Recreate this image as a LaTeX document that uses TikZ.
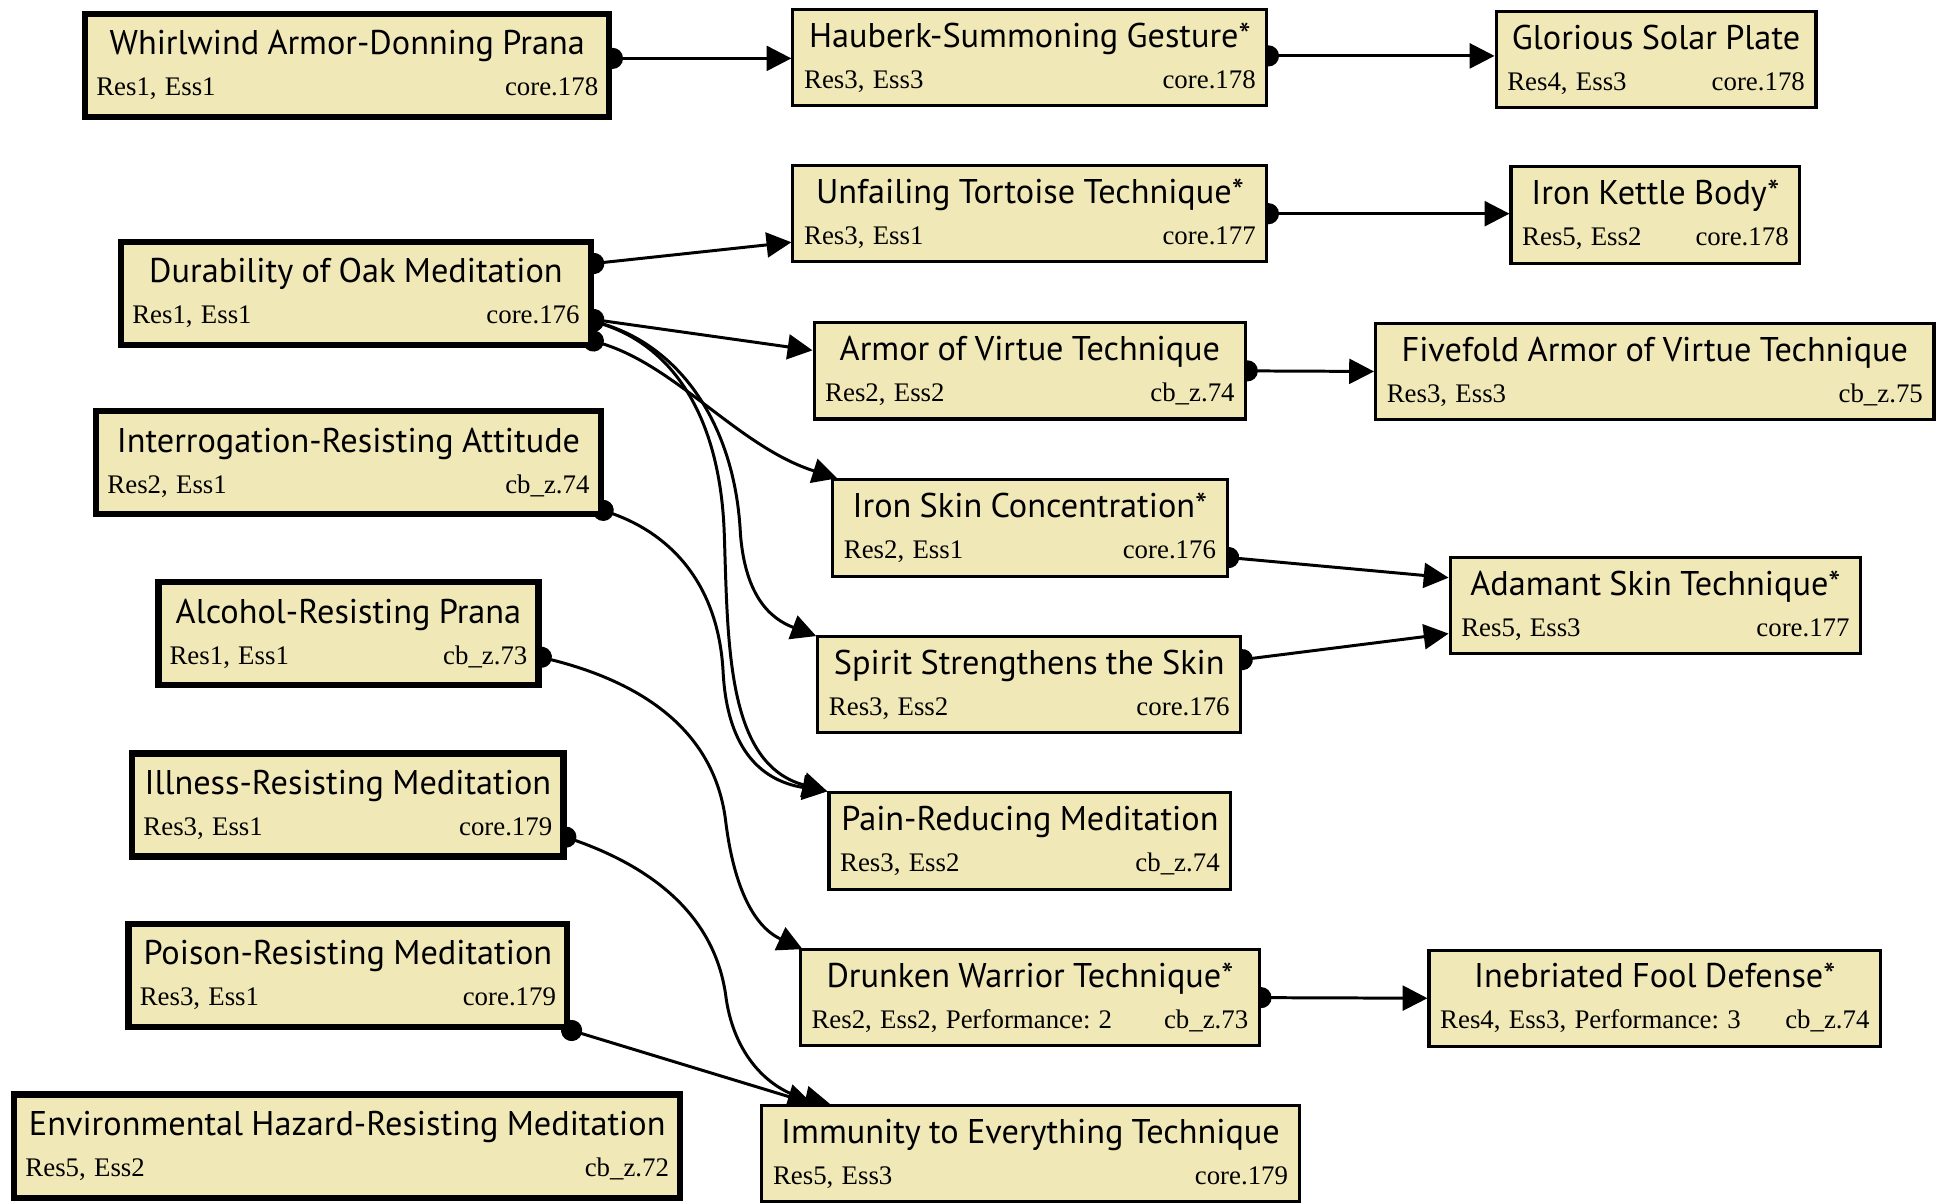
\documentclass[tikz,border=0pt]{standalone}
\usepackage{fontspec}
\setmainfont{Liberation Serif}
\newfontfamily\titlefont{PT Sans}
\usetikzlibrary{arrows.meta,calc,backgrounds}
\frenchspacing

\definecolor{techfill}{HTML}{F0E8B6}
% title on top, cost and source on one line below
\newcommand{\charm}[3]{\fontsize{10.8}{16.5}\selectfont
  \makebox[\linewidth]{\titlefont\fontsize{13.8}{16.5}\selectfont #1}\\%
  #2\hfill #3\par}

\begin{document}
\begin{tikzpicture}[
  x=0.5pt, y=-0.5pt,
  base/.style={draw, fill=techfill, line width=2.5pt, inner xsep=4.5pt,
               inner ysep=0pt, minimum height=41.5pt},
  tech/.style={base, line width=1.25pt, minimum height=38.75pt},
  link/.style={line width=1.2pt, {Circle[length=8.5pt]}-{Triangle[length=10pt,width=10pt]}}
]
\useasboundingbox (0,0) rectangle (1568,968);

% entry charms
\node[base, text width=202pt] (whirl) at (279.5,52.5) {\charm{Whirlwind Armor-Donning Prana}{Res1, Ess1}{core.178}};
\node[base, text width=180pt] (oak) at (286.5,236) {\charm{Durability of Oak Meditation}{Res1, Ess1}{core.176}};
\node[base, text width=194pt] (interr) at (280.5,372.5) {\charm{Interrogation-Resisting Attitude}{Res2, Ess1}{cb\_z.74}};
\node[base, text width=144pt] (alcohol) at (280.5,510) {\charm{Alcohol-Resisting Prana}{Res1, Ess1}{cb\_z.73}};
\node[base, text width=164.5pt] (illness) at (280,648) {\charm{Illness-Resisting Meditation}{Res3, Ess1}{core.179}};
\node[base, text width=167.5pt] (poison) at (280,785) {\charm{Poison-Resisting Meditation}{Res3, Ess1}{core.179}};
\node[base, text width=259pt] (env) at (279.5,922.5) {\charm{Environmental Hazard-Resisting Meditation}{Res5, Ess2}{cb\_z.72}};

% second tier
\node[tech, text width=181.75pt] (hauberk) at (829,46.5) {\charm{Hauberk-Summoning Gesture*}{Res3, Ess3}{core.178}};
\node[tech, text width=181.75pt] (tortoise) at (829,172) {\charm{Unfailing Tortoise Technique*}{Res3, Ess1}{core.177}};
\node[tech, text width=164.75pt] (armorv) at (829,298.5) {\charm{Armor of Virtue Technique}{Res2, Ess2}{cb\_z.74}};
\node[tech, text width=149.75pt] (ironskin) at (829,425) {\charm{Iron Skin Concentration*}{Res2, Ess1}{core.176}};
\node[tech, text width=161.25pt] (spirit) at (828.5,551) {\charm{Spirit Strengthens the Skin}{Res3, Ess2}{core.176}};
\node[tech, text width=152.75pt] (pain) at (829,677) {\charm{Pain-Reducing Meditation}{Res3, Ess2}{cb\_z.74}};
\node[tech, text width=175.75pt] (drunken) at (829,803) {\charm{Drunken Warrior Technique*}{Res2, Ess2, Performance: 2}{cb\_z.73}};
\node[tech, text width=207.25pt] (immunity) at (829.5,928.5) {\charm{Immunity to Everything Technique}{Res5, Ess3}{core.179}};

% third tier
\node[tech, text width=119.75pt] (solar) at (1333,48) {\charm{Glorious Solar Plate}{Res4, Ess3}{core.178}};
\node[tech, text width=107.25pt] (kettle) at (1332.5,173) {\charm{Iron Kettle Body*}{Res5, Ess2}{core.178}};
\node[tech, text width=215.75pt] (fivefold) at (1332,299) {\charm{Fivefold Armor of Virtue Technique}{Res3, Ess3}{cb\_z.75}};
\node[tech, text width=156.25pt] (adamant) at (1332.5,487.5) {\charm{Adamant Skin Technique*}{Res5, Ess3}{core.177}};
\node[tech, text width=172.75pt] (inebriated) at (1332,803.5) {\charm{Inebriated Fool Defense*}{Res4, Ess3, Performance: 3}{cb\_z.74}};

\begin{scope}[on background layer]
\draw[link] ($(whirl.east)+(-8.5,-5.5)$) -- ($(hauberk.west)+(0,0.5)$);
\draw[link] ($(hauberk.east)+(-8.5,-1.5)$) -- ($(solar.west)+(0,-3)$);
\draw[link] ($(tortoise.east)+(-8.5,0)$) -- (kettle.west |- tortoise.east);
\draw[link] ($(oak.east)+(-8.5,-23)$) -- ($(tortoise.west)+(0,23)$);
\draw[link] ($(oak.east)+(-8.5,20)$) -- ($(armorv.west)+(0,-16.5)$);
\draw[link] ($(oak.east)+(-8.5,36)$) .. controls (545,295) and (595,360) .. ($(ironskin.north west)+(5,0)$);
\draw[link] ($(oak.east)+(-8.5,20)$) .. controls (550,280) and (592,345) .. (596,430)
  .. controls (600,480) and (620,498) .. ($(spirit.north west)+(0,1)$);
\draw[link] ($(oak.east)+(-8.5,20)$) .. controls (545,280) and (580,340) .. (583,430)
  .. controls (586,520) and (585,615) .. (pain.north west);
\draw[link] ($(interr.east)+(-8.5,35.5)$) .. controls (540,430) and (578,470) .. (582,540)
  .. controls (585,600) and (610,628) .. (pain.north west);
\draw[link] ($(armorv.east)+(-8.5,0)$) -- (fivefold.west);
\draw[link] ($(ironskin.east)+(-8.5,23)$) -- ($(adamant.west)+(0,-22.5)$);
\draw[link] ($(spirit.east)+(-8.5,-19)$) -- ($(adamant.west)+(0,22.5)$);
\draw[link] ($(alcohol.east)+(-8.5,17)$) .. controls (520,550) and (575,590) .. (584,660)
  .. controls (590,710) and (605,745) .. ($(drunken.north west)+(3,1)$);
\draw[link] ($(drunken.east)+(-8.5,0)$) -- (inebriated.west);
\draw[link] ($(illness.east)+(-8.5,23)$) .. controls (530,700) and (575,740) .. (584,800)
  .. controls (590,850) and (620,878) .. ($(immunity.north west)+(56,0)$);
\draw[link] ($(poison.south east)+(-7,-2)$) -- ($(immunity.north west)+(42,0)$);
\end{scope}
\end{tikzpicture}
\end{document}
